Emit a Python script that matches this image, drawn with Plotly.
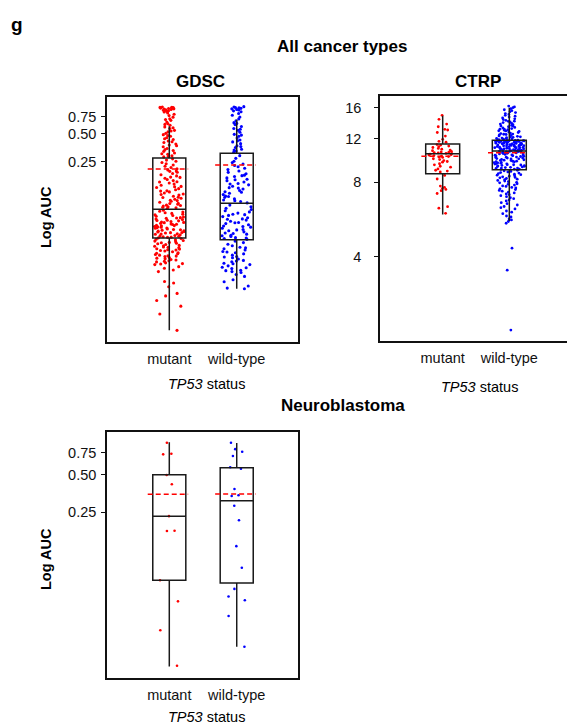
import plotly.graph_objects as go

# ---------------- data ----------------
CATS = ["mutant", "wild-type"]

# GDSC (log AUC), all cancer types
GDSC_MUT = [
    0.0041, 0.0061, 0.0074, 0.0085, 0.0095, 0.0101, 0.0119, 0.0130, 0.0135, 0.0172, 0.0179, 0.0187, 0.0194,
    0.0204, 0.0209, 0.0213, 0.0207, 0.0218, 0.0224, 0.0221, 0.0231, 0.0228, 0.0236,
    0.0242, 0.0239, 0.0248, 0.0253, 0.0251, 0.0261, 0.0257, 0.0266, 0.0272, 0.0269,
    0.0279, 0.0284, 0.0288, 0.0293, 0.0291, 0.0301, 0.0298, 0.0307, 0.0314, 0.0311,
    0.0319, 0.0326, 0.0323, 0.0333, 0.0339, 0.0344, 0.0351, 0.0348, 0.0357, 0.0362,
    0.0368, 0.0373, 0.0379, 0.0386,
    0.0392, 0.0397, 0.0403, 0.0399, 0.0411, 0.0416, 0.0408, 0.0423, 0.0428, 0.0434,
    0.0431, 0.0441, 0.0447, 0.0452, 0.0445, 0.0459, 0.0466, 0.0462, 0.0473, 0.0481,
    0.0477, 0.0488, 0.0495, 0.0502, 0.0498, 0.0509, 0.0517, 0.0513, 0.0526, 0.0534,
    0.0529, 0.0543, 0.0551, 0.0547, 0.0559, 0.0568, 0.0576, 0.0572, 0.0585, 0.0594,
    0.0603, 0.0598, 0.0612, 0.0621, 0.0631, 0.0642, 0.0637, 0.0653, 0.0664, 0.0676,
    0.0688, 0.0699, 0.0712, 0.0724, 0.0737, 0.0751, 0.0768,
    0.0802, 0.0818, 0.0836, 0.0829, 0.0853, 0.0871, 0.0864, 0.0892, 0.0913, 0.0907,
    0.0934, 0.0958, 0.0981, 0.0974, 0.1006, 0.1032, 0.1058, 0.1049, 0.1084, 0.1113,
    0.1142, 0.1131, 0.1173, 0.1204, 0.1236, 0.1228, 0.1269, 0.1304, 0.1341, 0.1378,
    0.1366, 0.1417, 0.1456, 0.1498, 0.1541, 0.1532, 0.1586, 0.1632, 0.1679, 0.1728,
    0.1716, 0.1779, 0.1832, 0.1887, 0.1943, 0.2001, 0.1988, 0.2061, 0.2123, 0.2187,
    0.2253, 0.2322, 0.2393, 0.2466, 0.2541, 0.2618, 0.2697,
    0.283, 0.291, 0.287, 0.302, 0.311, 0.306, 0.324, 0.331, 0.347, 0.339,
    0.362, 0.371, 0.388, 0.379, 0.402, 0.417, 0.409, 0.433, 0.452, 0.441,
    0.468, 0.487, 0.476, 0.503, 0.522, 0.541, 0.532, 0.566, 0.589, 0.577,
    0.612, 0.638, 0.626, 0.664, 0.691, 0.718, 0.704, 0.747, 0.776, 0.802,
    0.828, 0.846, 0.861, 0.873, 0.884, 0.892, 0.901, 0.908, 0.915, 0.921,
    0.927, 0.932, 0.938, 0.943, 0.948, 0.953, 0.958,
]
GDSC_WT = [
    0.0113, 0.0115, 0.0121, 0.0134, 0.0141, 0.0153, 0.0160, 0.0168,
    0.0172, 0.0178, 0.0176, 0.0185, 0.0191, 0.0189, 0.0198, 0.0204, 0.0211, 0.0208,
    0.0219, 0.0226, 0.0223, 0.0234, 0.0241, 0.0249, 0.0246, 0.0257, 0.0265, 0.0273,
    0.0281, 0.0278, 0.0292, 0.0301, 0.0312, 0.0308, 0.0323, 0.0336, 0.0349, 0.0362,
    0.0378, 0.0386, 0.0394, 0.0391, 0.0405, 0.0417, 0.0412, 0.0429, 0.0441, 0.0436,
    0.0454, 0.0467, 0.0481, 0.0476, 0.0495, 0.0509, 0.0524, 0.0518, 0.0539, 0.0555,
    0.0571, 0.0566, 0.0588, 0.0605, 0.0623, 0.0617, 0.0641, 0.0659, 0.0678, 0.0698,
    0.0691, 0.0718, 0.0739, 0.0761, 0.0783, 0.0806, 0.0838, 0.0872,
    0.0921, 0.0953, 0.0987, 0.0972, 0.1019, 0.1054, 0.1091, 0.1078, 0.1127, 0.1166,
    0.1207, 0.1193, 0.1248, 0.1292, 0.1336, 0.1321, 0.1383, 0.1431, 0.1479, 0.1462,
    0.1531, 0.1584, 0.1638, 0.1619, 0.1694, 0.1753, 0.1812, 0.1791, 0.1876, 0.1941,
    0.2007, 0.2076, 0.2149, 0.2223, 0.2298, 0.2379, 0.2462, 0.2547, 0.2731, 0.2918,
    0.318, 0.326, 0.341, 0.335, 0.356, 0.372, 0.364, 0.391, 0.408, 0.427,
    0.419, 0.448, 0.469, 0.491, 0.482, 0.516, 0.541, 0.567, 0.556, 0.594,
    0.623, 0.653, 0.641, 0.684, 0.716, 0.749, 0.783, 0.818, 0.852, 0.871,
    0.889, 0.903, 0.915, 0.926, 0.937, 0.947, 0.956, 0.965,
]
GDSC_Q1 = [0.039, 0.0375]
GDSC_MED = [0.079, 0.091]
GDSC_Q3 = [0.276, 0.309]
GDSC_LO = [0.0041, 0.0113]
GDSC_HI = [0.60, 0.70]
GDSC_MEAN = [0.21, 0.232]

# CTRP (AUC), all cancer types
CTRP_MUT = [
    14.9, 14.36, 13.74, 13.4, 13.08, 13.0, 12.7, 12.29, 11.92, 11.7, 11.6, 11.35,
    11.3, 11.2, 11.14, 11.05, 10.95, 10.88, 10.79, 10.72, 10.66, 10.6, 10.58, 10.52,
    10.5, 10.47, 10.45, 10.38, 10.33, 10.3, 10.25, 10.2, 10.15, 10.1, 10.07, 9.95,
    9.87, 9.78, 9.7, 9.64, 9.5, 9.4, 9.28, 9.2, 9.05, 8.94, 8.87, 8.8, 8.52, 8.24,
    7.72, 7.63, 7.55, 7.48, 7.39, 7.2, 6.37, 6.28, 5.99,
]
CTRP_WT = [
    2.02, 3.53, 4.33, 5.46, 5.55, 5.63, 5.68, 5.79, 5.84, 5.97, 6.05, 6.12, 6.24,
    6.31, 6.38, 6.47, 6.55, 6.61, 6.72, 6.78, 6.86, 6.93, 6.99, 7.06, 7.12, 7.17,
    7.24, 7.29, 7.36, 7.41, 7.47, 7.52, 7.58, 7.62, 7.69, 7.73, 7.79, 7.84, 7.88,
    7.95, 7.99, 8.04, 8.09, 8.13, 8.19, 8.23, 8.28, 8.33, 8.36, 8.41, 8.46, 8.49,
    8.54, 8.58, 8.62, 8.67, 8.71, 8.75, 8.8, 8.84, 8.89, 8.94,
    9.01, 9.04, 9.04, 9.09, 9.12, 9.12, 9.17, 9.19, 9.22, 9.26, 9.27, 9.31, 9.33,
    9.35, 9.39, 9.41, 9.42, 9.47, 9.49, 9.51, 9.55, 9.58, 9.6, 9.62, 9.67, 9.69,
    9.72, 9.73, 9.78, 9.8, 9.82, 9.86, 9.89, 9.93, 9.94, 9.97, 10.01, 10.03, 10.07,
    10.09, 10.11, 10.16, 10.18, 10.21, 10.23, 10.28, 10.3, 10.31, 10.36, 10.39,
    10.41, 10.44, 10.47, 10.5, 10.52, 10.55, 10.57, 10.6, 10.61, 10.64, 10.66,
    10.68, 10.69,
    10.71, 10.72, 10.74, 10.77, 10.78, 10.8, 10.81, 10.84, 10.86, 10.87, 10.9,
    10.91, 10.93, 10.96, 10.97, 10.99, 11.02, 11.03, 11.05, 11.07, 11.08, 11.11,
    11.13, 11.14, 11.16, 11.19, 11.2, 11.22, 11.24, 11.26, 11.27, 11.3, 11.32,
    11.33, 11.35, 11.38, 11.39, 11.41, 11.43, 11.44, 11.47, 11.49, 11.5, 11.52,
    11.55, 11.56, 11.58, 11.6, 11.61, 11.63, 11.66, 11.67, 11.69, 11.71, 11.72,
    11.74, 11.76, 11.77, 11.79, 11.8, 11.81, 11.75, 11.68,
    11.84, 11.88, 11.93, 11.97, 12.02, 12.06, 12.11, 12.15, 12.21, 12.26, 12.3,
    12.36, 12.41, 12.47, 12.52, 12.58, 12.63, 12.7, 12.76, 12.83, 12.89, 12.96,
    13.03, 13.1, 13.17, 13.25, 13.32, 13.4, 13.48, 13.57, 13.65, 13.74, 13.83,
    13.93, 14.02, 14.12, 14.22, 14.33, 14.43, 14.55, 14.66, 14.78, 14.9, 15.03,
    15.15, 15.29, 15.42, 15.56, 15.7, 15.85, 16.0, 16.12, 16.24, 12.5, 13.1,
    12.0, 12.9, 14.1, 13.5, 12.2,
]
CTRP_Q1 = [8.66, 8.98]
CTRP_MED = [10.43, 10.7]
CTRP_Q3 = [11.41, 11.81]
CTRP_LO = [5.93, 5.58]
CTRP_HI = [14.84, 16.0]
CTRP_MEAN = [10.18, 10.52]

# Neuroblastoma (log AUC, GDSC)
NB_MUT = [0.90, 0.727, 0.735, 0.497, 0.419, 0.233, 0.177, 0.178, 0.0715, 0.0485, 0.0285, 0.0148]
NB_WT = [0.90, 0.80, 0.763, 0.705, 0.573, 0.558, 0.384, 0.342, 0.338, 0.282, 0.216, 0.134,
         0.090, 0.061, 0.053, 0.0495, 0.037, 0.021]
NB_Q1 = [0.0715, 0.068]
NB_MED = [0.233, 0.31]
NB_Q3 = [0.50, 0.568]
NB_LO = [0.0146, 0.021]
NB_HI = [0.907, 0.896]
NB_MEAN = [0.348, 0.35]

AUC_TICKS = [0.25, 0.5, 0.75]
AUC_TICKTEXT = ["0.25", "0.50", "0.75"]
CTRP_TICKS = [4, 8, 12, 16]
CTRP_TICKTEXT = ["4", "8", "12", "16"]

# ---------------- styling / layout ----------------
W, H = 567, 724
FONT = "Liberation Sans, Arial, sans-serif"
RED = "rgb(255,0,0)"
BLUE = "rgb(0,0,255)"
INK = "#111111"
TICK_SIZE = 14.5
TITLE_SIZE = 17


def fx(p):
    return p / W


def fy(p):
    return 1 - p / H


fig = go.Figure()

panels = [
    dict(xa="x", ya="y", mut=GDSC_MUT, wt=GDSC_WT, q1=GDSC_Q1, med=GDSC_MED, q3=GDSC_Q3,
         lo=GDSC_LO, hi=GDSC_HI, mean=GDSC_MEAN, size=3.1, bw=0.49),
    dict(xa="x2", ya="y2", mut=CTRP_MUT, wt=CTRP_WT, q1=CTRP_Q1, med=CTRP_MED, q3=CTRP_Q3,
         lo=CTRP_LO, hi=CTRP_HI, mean=CTRP_MEAN, size=2.8, bw=0.51),
    dict(xa="x3", ya="y3", mut=NB_MUT, wt=NB_WT, q1=NB_Q1, med=NB_MED, q3=NB_Q3,
         lo=NB_LO, hi=NB_HI, mean=NB_MEAN, size=2.6, bw=0.49),
]

shapes = []
for p in panels:
    for cat, vals, col in ((CATS[0], p["mut"], RED), (CATS[1], p["wt"], BLUE)):
        fig.add_trace(go.Box(
            x=[cat] * len(vals), y=vals, xaxis=p["xa"], yaxis=p["ya"],
            boxpoints="all", jitter=1.0, pointpos=0, width=p["bw"] * 0.9,
            marker=dict(color=col, size=p["size"], line=dict(width=0)),
            line=dict(width=0, color="rgba(0,0,0,0)"), fillcolor="rgba(0,0,0,0)",
            showlegend=False, hoveron="points",
        ))
    fig.add_trace(go.Box(
        x=CATS, q1=p["q1"], median=p["med"], q3=p["q3"],
        lowerfence=p["lo"], upperfence=p["hi"],
        xaxis=p["xa"], yaxis=p["ya"], boxpoints=False, width=p["bw"],
        whiskerwidth=0, line=dict(color="#1a1a1a", width=1.5),
        fillcolor="rgba(0,0,0,0)", showlegend=False,
    ))
    for i, m in enumerate(p["mean"]):
        shapes.append(dict(type="line", xref=p["xa"], yref=p["ya"],
                           x0=i - 0.32, x1=i + 0.28, y0=m, y1=m,
                           line=dict(color=RED, width=1.5, dash="5px,3px")))

axis_common = dict(showgrid=False, zeroline=False, showline=True, linecolor=INK,
                   linewidth=1.5, tickfont=dict(family=FONT, size=TICK_SIZE, color=INK))

xcat = dict(type="category", categoryorder="array", categoryarray=CATS, ticks="",
            ticklabelstandoff=3, **axis_common)
ylog = dict(type="log", ticks="outside", ticklen=4, tickwidth=1, tickcolor=INK,
            ticklabelstandoff=2, **axis_common)

fig.update_layout(
    width=W, height=H, autosize=False,
    margin=dict(l=0, r=0, t=0, b=0, pad=0),
    paper_bgcolor="white", plot_bgcolor="white",
    boxmode="overlay", showlegend=False,
    font=dict(family=FONT, color=INK),
    xaxis=dict(domain=[fx(107), fx(298)], range=[-0.924, 1.909], anchor="y", mirror=True, **xcat),
    yaxis=dict(domain=[fy(342), fy(97)], range=[-2.511, 0.087], anchor="x", mirror=True,
               tickvals=AUC_TICKS, ticktext=AUC_TICKTEXT, **ylog),
    xaxis2=dict(domain=[fx(380), 1.0], range=[-0.941, 1.866], anchor="y2", mirror=True, **xcat),
    yaxis2=dict(domain=[fy(341), fy(95.7)], range=[0.2614, 1.2526], anchor="x2", mirror=False,
                tickvals=CTRP_TICKS, ticktext=CTRP_TICKTEXT, **{**ylog, "ticklabelstandoff": 10}),
    xaxis3=dict(domain=[fx(107), fx(298)], range=[-0.924, 1.909], anchor="y3", mirror=True, **xcat),
    yaxis3=dict(domain=[fy(677.7), fy(432.3)], range=[-1.925, 0.038], anchor="x3", mirror=True,
                tickvals=AUC_TICKS, ticktext=AUC_TICKTEXT, **ylog),
    shapes=shapes,
)


def ann(text, x, y, size, bold=False, angle=0, xanchor="center"):
    return dict(text=f"<b>{text}</b>" if bold else text, x=fx(x), y=fy(y),
                xref="paper", yref="paper", showarrow=False, xanchor=xanchor,
                yanchor="middle", textangle=angle,
                font=dict(family=FONT, size=size, color="black"))


fig.update_layout(annotations=[
    ann("g", 9, 25, 19, bold=True, xanchor="left"),
    ann("All cancer types", 342, 47, TITLE_SIZE, bold=True),
    ann("GDSC", 200, 81, TITLE_SIZE, bold=True),
    ann("CTRP", 478, 81, TITLE_SIZE, bold=True),
    ann("Neuroblastoma", 343, 405, TITLE_SIZE, bold=True),
    ann("Log AUC", 46, 217, 14.5, bold=True, angle=-90),
    ann("Log AUC", 46, 559, 14.5, bold=True, angle=-90),
    ann("<i>TP53</i> status", 206, 384, TICK_SIZE),
    ann("<i>TP53</i> status", 479, 387, TICK_SIZE),
    ann("<i>TP53</i> status", 206, 717, TICK_SIZE),
])

fig.write_html(
    "out.html",
    config={"displayModeBar": False},
    post_script="document.body.style.margin='0';document.body.style.overflow='hidden';"
                "document.documentElement.style.overflow='hidden';",
)
